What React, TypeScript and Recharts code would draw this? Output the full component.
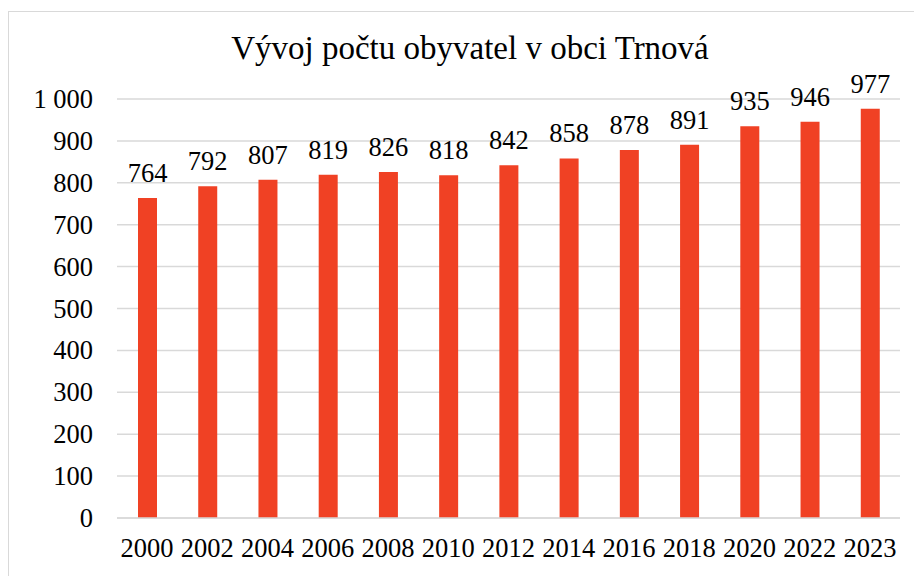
import { BarChart, Bar, XAxis, YAxis, CartesianGrid, LabelList } from 'recharts';

const years = ['2000', '2002', '2004', '2006', '2008', '2010', '2012', '2014', '2016', '2018', '2020', '2022', '2023'];
const population = [764, 792, 807, 819, 826, 818, 842, 858, 878, 891, 935, 946, 977];
const yTicks = [0, 100, 200, 300, 400, 500, 600, 700, 800, 900, 1000];

const chartData = years.map((year, i) => ({ year, population: population[i] }));

const serif = 'Liberation Serif, Times New Roman, serif';

const fmt = (v: number) => (v >= 1000 ? `${Math.floor(v / 1000)} ${String(v % 1000).padStart(3, '0')}` : String(v));

const XTick = (props: any) => {
  const { x, y, payload } = props;
  return (
    <text x={x} y={y + 31} textAnchor='middle' fontFamily={serif} fontSize={26.5} fill='#000'>
      {payload.value}
    </text>
  );
};

const YTick = (props: any) => {
  const { x, y, payload } = props;
  return (
    <text x={x - 16} y={y + 9} textAnchor='end' fontFamily={serif} fontSize={26.5} fill='#000'>
      {fmt(payload.value)}
    </text>
  );
};

const ValueLabel = (props: any) => {
  const { x, y, width, value } = props;
  return (
    <text x={x + width / 2} y={y - 16} textAnchor='middle' fontFamily={serif} fontSize={26.5} fill='#000'>
      {value}
    </text>
  );
};

export default function App() {
  return (
    <div style={{ position: 'absolute', left: 0, top: 0, width: 914, height: 576, background: '#fff', overflow: 'hidden', fontFamily: serif }}>
      <div
        style={{
          position: 'absolute',
          left: 8,
          top: 11,
          width: 920,
          height: 600,
          border: '1px solid #d9d9d9',
          boxSizing: 'border-box',
        }}
      />
      <div
        style={{
          position: 'absolute',
          left: 0,
          width: 940,
          top: 28,
          textAlign: 'center',
          fontSize: 33,
          lineHeight: '40px',
          color: '#000',
        }}
      >
        Vývoj počtu obyvatel v obci Trnová
      </div>
      <div style={{ position: 'absolute', left: 0, top: 0 }}>
        <BarChart width={914} height={576} data={chartData} margin={{ top: 99, right: 14, bottom: 28, left: 0 }}>
          <CartesianGrid vertical={false} stroke='#d9d9d9' strokeWidth={1.5} />
          <XAxis
            dataKey='year'
            axisLine={{ stroke: '#d9d9d9', strokeWidth: 1.5 }}
            tickLine={false}
            height={30}
            interval={0}
            tick={<XTick />}
          />
          <YAxis
            width={117}
            domain={[0, 1000]}
            ticks={yTicks}
            axisLine={false}
            tickLine={false}
            tick={<YTick />}
          />
          <Bar dataKey='population' fill='#f04124' barSize={19} isAnimationActive={false}>
            <LabelList dataKey='population' content={<ValueLabel />} />
          </Bar>
        </BarChart>
      </div>
    </div>
  );
}
